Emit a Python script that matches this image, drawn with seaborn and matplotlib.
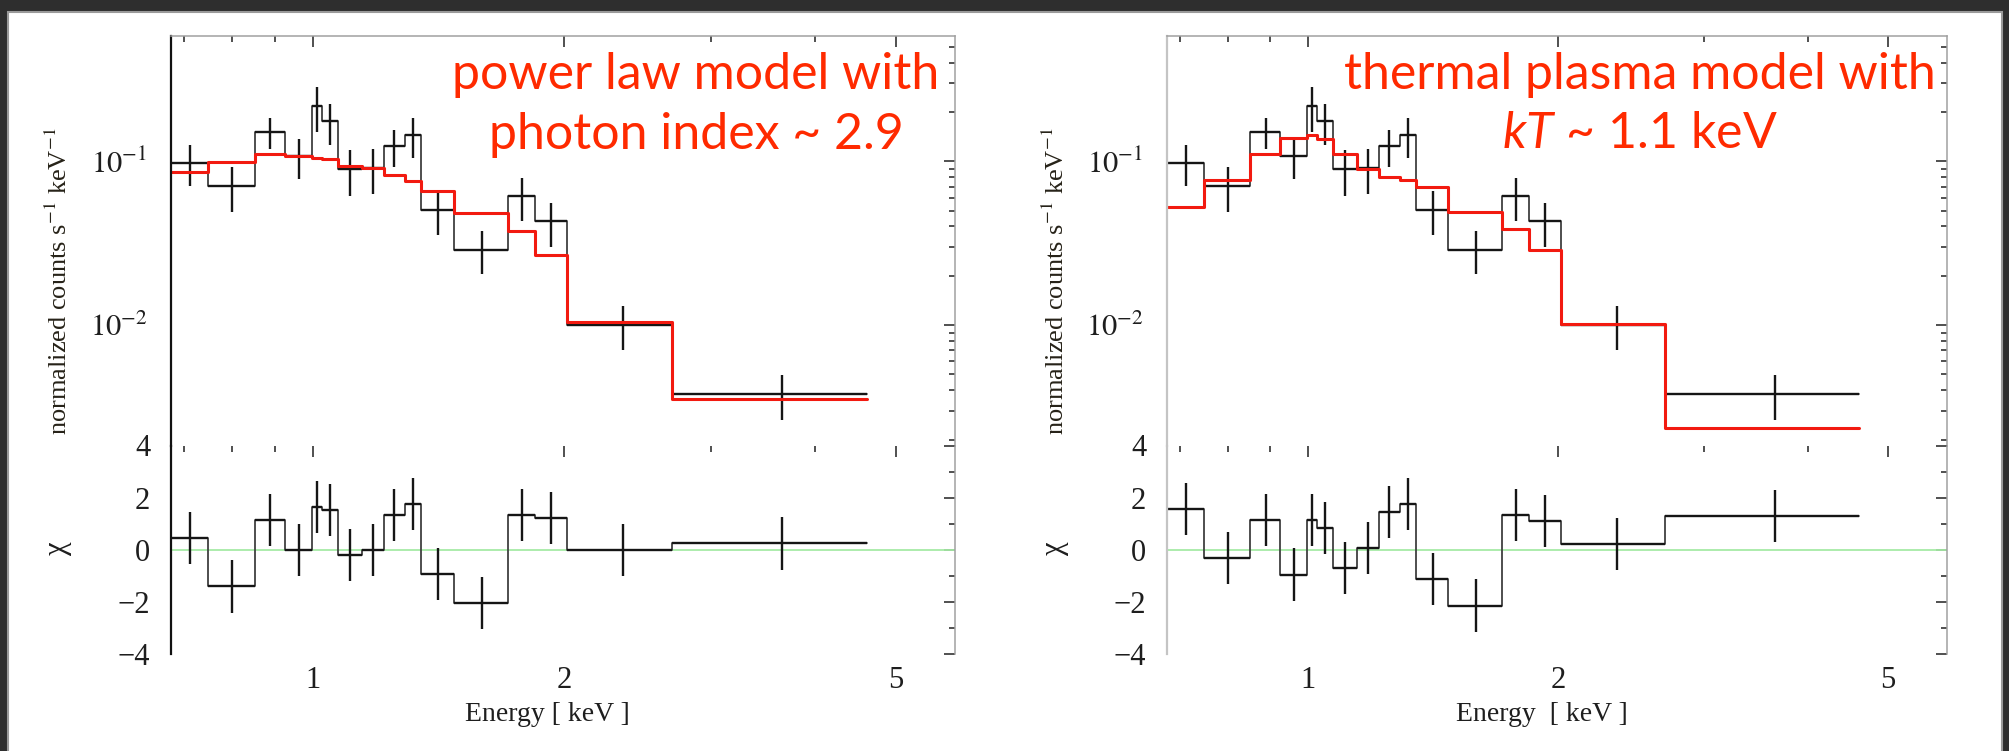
import numpy as np
import pandas as pd
import matplotlib
matplotlib.use("Agg")
import matplotlib.pyplot as plt
import seaborn as sns
from matplotlib.patches import Rectangle
from matplotlib.ticker import FixedLocator, FixedFormatter, NullFormatter, LogLocator

# ---------------------------------------------------------------- data
# energy bin edges [keV]
bin_edges = [0.677, 0.749, 0.852, 0.926, 0.998, 1.026, 1.072, 1.144, 1.216,
             1.289, 1.350, 1.476, 1.715, 1.845, 2.015, 2.696, 4.616]
# observed spectrum [normalized counts s^-1 keV^-1] and 1-sigma errors
counts = [0.0983, 0.0709, 0.152, 0.107, 0.218, 0.175, 0.0896, 0.0909, 0.124,
          0.144, 0.0506, 0.0289, 0.061, 0.043, 0.0100, 0.00381]
counts_err = [0.028, 0.022, 0.033, 0.029, 0.068, 0.050, 0.028, 0.028, 0.032,
              0.039, 0.015, 0.0085, 0.0176, 0.013, 0.0030, 0.00117]
# folded models
powerlaw_model = [0.0855, 0.0997, 0.111, 0.107, 0.104, 0.1031, 0.093, 0.0909,
                  0.0819, 0.076, 0.0654, 0.0483, 0.0373, 0.0267, 0.01046, 0.00355]
thermal_model = [0.0526, 0.0764, 0.111, 0.1385, 0.145, 0.1366, 0.111, 0.0896,
                 0.0801, 0.0764, 0.0696, 0.0487, 0.0388, 0.0289, 0.0102, 0.00234]
# residuals (data - model) / error
powerlaw_chi = [0.45, -1.41, 1.13, 0.00, 1.64, 1.54, -0.19, 0.00, 1.35, 1.77,
                -0.92, -2.05, 1.35, 1.23, 0.00, 0.24]
thermal_chi = [1.58, -0.31, 1.13, -0.95, 1.13, 0.85, -0.71, 0.08, 1.45, 1.77,
               -1.12, -2.14, 1.32, 1.10, 0.22, 1.30]

x_ticks = [1, 2, 5]
x_tick_labels = ["1", "2", "5"]
x_minor = [0.7, 0.8, 0.9, 3, 4]
y_ticks = [0.01, 0.1]
y_tick_labels = [r"$10^{-2}$", r"$10^{-1}$"]
chi_ticks = [-4, -2, 0, 2, 4]
chi_tick_labels = ["\u22124", "\u22122", "0", "2", "4"]
chi_minor = [-3, -1, 1, 3]

titles = [("power law model with", "photon index ~ 2.9"),
          ("thermal plasma model with", r"$\mathit{kT}$ ~ 1.1 keV")]
xlabels = ["Energy [ keV ]", "Energy  [ keV ]"]

# ---------------------------------------------------------------- style
sns.set_style("white")
plt.rcParams["font.family"] = ["Liberation Serif", "DejaVu Serif"]
plt.rcParams["mathtext.fontset"] = "stix"
plt.rcParams["mathtext.it"] = "Lato:italic"
plt.rcParams["mathtext.rm"] = "Lato"

W, H, DPI = 2009, 751, 100
fig = plt.figure(figsize=(W / DPI, H / DPI), dpi=DPI)
fig.patch.set_facecolor("#2e2e2e")
fig.patches.append(Rectangle((8 / W, -0.01), (2002 - 8) / W, 1.01 - 12 / H,
                             transform=fig.transFigure, facecolor="white",
                             edgecolor="#9a9a9a", lw=1.5, zorder=-5))


def px_axes(x0, y0, x1, y1):
    return fig.add_axes([x0 / W, 1 - y1 / H, (x1 - x0) / W, (y1 - y0) / H])


edges = np.array(bin_edges)
centers = (edges[:-1] + edges[1:]) / 2
halfw = (edges[1:] - edges[:-1]) / 2


def step_frame(values):
    return pd.DataFrame({"E": edges, "v": list(values) + [values[-1]]})


DATA_STEP = dict(color="#404040", lw=1.3)
CROSS = dict(fmt="none", ecolor="#151515", elinewidth=1.7, capsize=0)
RED = "#f21a10"
TEXT = "#1e1e1e"


def style_axes(ax, left_color):
    ax.set_facecolor("none")
    ax.set_xscale("log")
    ax.set_xlim(0.676, 5.89)
    ax.xaxis.set_major_locator(FixedLocator(x_ticks))
    ax.xaxis.set_minor_locator(FixedLocator(x_minor))
    ax.xaxis.set_minor_formatter(NullFormatter())
    ax.tick_params(which="both", direction="in", top=True, right=True,
                   color="#202020", width=1.1, labelcolor=TEXT)
    ax.tick_params(which="major", length=8)
    ax.tick_params(which="minor", length=4.5)
    ax.spines["left"].set_color(left_color)
    ax.spines["left"].set_linewidth(1.6)
    for s in ("top", "right"):
        ax.spines[s].set_color("#a0a0a0")
        ax.spines[s].set_linewidth(1.1)
    ax.grid(False)


panels = [(171, 955, powerlaw_model, powerlaw_chi, "#111111"),
          (1167, 1947, thermal_model, thermal_chi, "#c4c4c4")]

for i, (x0, x1, model, chi, lcol) in enumerate(panels):
    ax_top = px_axes(x0, 36, x1, 445.5)
    ax_res = px_axes(x0, 445.5, x1, 654)
    style_axes(ax_top, lcol)
    style_axes(ax_res, lcol)

    # spectrum panel
    ax_top.set_yscale("log")
    ax_top.set_ylim(0.00184, 0.582)
    ax_top.yaxis.set_major_locator(FixedLocator(y_ticks))
    ax_top.yaxis.set_major_formatter(FixedFormatter(y_tick_labels))
    ax_top.yaxis.set_minor_locator(LogLocator(base=10, subs=np.arange(2, 10)))
    ax_top.yaxis.set_minor_formatter(NullFormatter())
    ax_top.tick_params(labelbottom=False)
    ax_top.tick_params(axis="y", labelsize=22, pad=17)
    ax_top.spines["bottom"].set_visible(False)

    sns.lineplot(data=step_frame(counts), x="E", y="v", drawstyle="steps-post",
                 estimator=None, sort=False, ax=ax_top, **DATA_STEP)
    ax_top.errorbar(centers, counts, xerr=halfw, yerr=counts_err, **CROSS)
    sns.lineplot(data=step_frame(model), x="E", y="v", drawstyle="steps-post",
                 estimator=None, sort=False, ax=ax_top, color=RED, lw=2.2)
    ax_top.set_xlabel("")
    ax_top.set_ylabel(r"normalized counts s$^{-1}$ keV$^{-1}$", fontsize=19,
                      color="#262218")
    ax_top.yaxis.set_label_coords(-0.126, 0.40)

    # residual panel
    ax_res.set_ylim(-4, 4)
    ax_res.yaxis.set_major_locator(FixedLocator(chi_ticks))
    ax_res.yaxis.set_major_formatter(FixedFormatter(chi_tick_labels))
    ax_res.yaxis.set_minor_locator(FixedLocator(chi_minor))
    ax_res.xaxis.set_major_formatter(FixedFormatter(x_tick_labels))
    ax_res.tick_params(axis="y", labelsize=22, pad=15)
    ax_res.tick_params(axis="x", labelsize=22, pad=9)
    ax_res.spines["top"].set_visible(False)
    ax_res.spines["bottom"].set_visible(False)
    ax_res.axhline(0, color="#a6eba6", lw=1.3, zorder=1)

    sns.lineplot(data=step_frame(chi), x="E", y="v", drawstyle="steps-post",
                 estimator=None, sort=False, ax=ax_res, **DATA_STEP)
    ax_res.errorbar(centers, chi, xerr=halfw, yerr=1.0, **CROSS)
    ax_res.set_ylabel("\u03c7", fontsize=22, color=TEXT)
    ax_res.yaxis.set_label_coords(-0.126, 0.508)
    ax_res.set_xlabel(xlabels[i], fontsize=20, color=TEXT)
    ax_res.xaxis.set_label_coords(0.48, -0.23)

    # model annotation
    cx = [696, 1640][i] / W
    for line, yb in zip(titles[i], (88.6, 148.5)):
        fig.text(cx, 1 - yb / H, line, ha="center", va="baseline",
                 fontsize=36, color="#ff2a00", family="Lato",
                 math_fontfamily="custom")

fig.savefig("out.png", dpi=DPI, facecolor=fig.get_facecolor())
